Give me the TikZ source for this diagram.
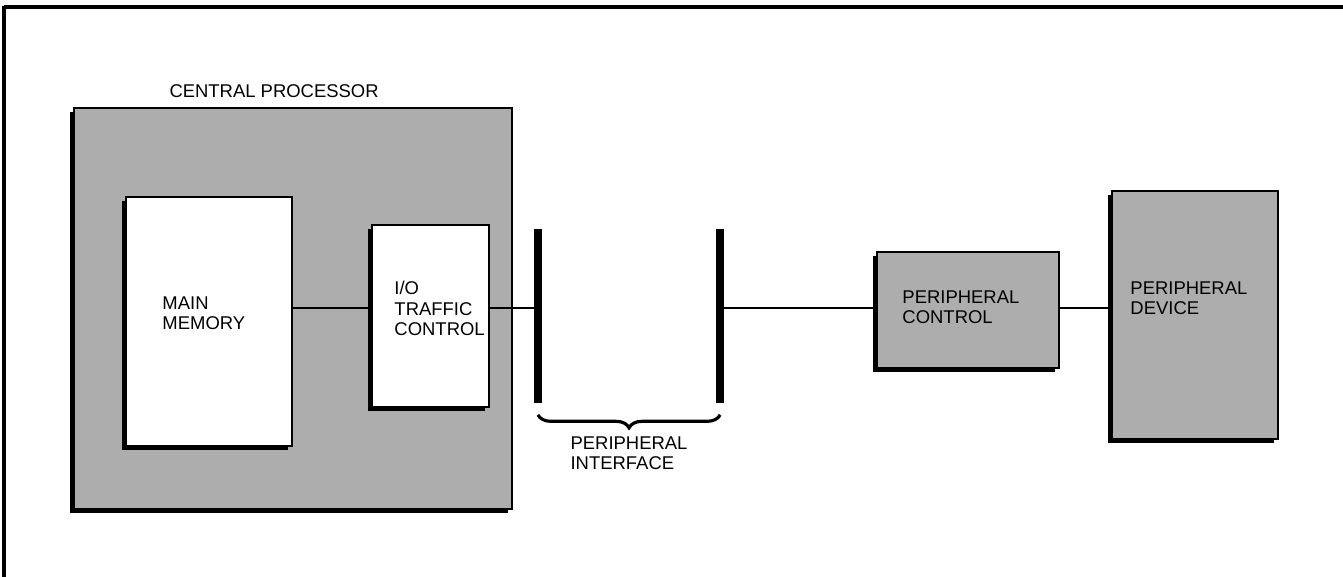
\documentclass[tikz,border=0pt]{standalone}
\usepackage{fontspec}
\setmainfont{Liberation Sans}
\usetikzlibrary{positioning,shadows,decorations.pathreplacing}
\definecolor{screen}{gray}{0.68}

\begin{document}
\begin{tikzpicture}[
    x=0.02cm, y=-0.02cm,
    font=\fontsize{10.5}{11.5}\selectfont,
    unit/.style={draw,line width=1pt,fill=screen,inner sep=0pt,
      drop shadow={shadow xshift=-2.4pt,shadow yshift=-2.4pt,opacity=1,fill=black}},
    whitebox/.style={unit,fill=white},
    caption/.style={align=left,inner sep=0pt,anchor=north west},
    bar/.style={fill=black,inner sep=0pt,minimum width=0.15cm,minimum height=3.5cm},
    wire/.style={line width=1.1pt}
  ]
    \useasboundingbox (0,0) rectangle (1343,577);
    % frame
    \draw[line width=1.8pt] (1343,7) -- (4,7);
    \draw[line width=2.8pt] (4,6) -- (4,577);

    \node[unit,minimum width=8.76cm,minimum height=8.02cm] (cpu) at (293,308.5) {};
    \node[anchor=base west,inner sep=0pt] (cpulbl) at ([shift={(96,-10)}]cpu.north west) {CENTRAL PROCESSOR};

    \node[whitebox,minimum width=3.32cm,minimum height=4.98cm] (mem) at (209,321.5) {};
    \node[caption] (memtxt) at ([shift={(37,100)}]mem.north west) {MAIN\\MEMORY};
    \node[whitebox,minimum width=2.34cm,minimum height=3.64cm] (io) at (430.5,316) {};
    \node[caption] (iotxt) at ([shift={(23,57)}]io.north west) {I/O\\TRAFFIC\\CONTROL};

    \node[bar,right=0.88cm of io] (lbar) {};
    \node[bar,right=3.48cm of lbar] (rbar) {};

    \node[unit,minimum width=3.64cm,minimum height=2.32cm] (pctl) at (968,310) {};
    \node[caption] (pctltxt) at ([shift={(26,39)}]pctl.north west) {PERIPHERAL\\CONTROL};
    \node[unit,minimum width=3.32cm,minimum height=4.96cm] (pdev) at (1195,315) {};
    \node[caption] (pdevtxt) at ([shift={(19,91)}]pdev.north west) {PERIPHERAL\\DEVICE};

    % bus level
    \coordinate (bus) at (0,308);
    \draw[wire] (mem.east |- bus) -- (io.west |- bus);
    \draw[wire] (io.east |- bus) -- (lbar.west |- bus);
    \draw[wire] (rbar.east |- bus) -- (pctl.west |- bus);
    \draw[wire] (pctl.east |- bus) -- (pdev.west |- bus);

    \draw[line width=1.8pt,decorate,decoration={brace,mirror,amplitude=0.26cm}]
      ([yshift=-0.22cm]lbar.south) -- ([yshift=-0.22cm]rbar.south)
      node[midway,caption,below=0.4cm] (pitxt) {PERIPHERAL\\INTERFACE};
  \end{tikzpicture}
\end{document}
